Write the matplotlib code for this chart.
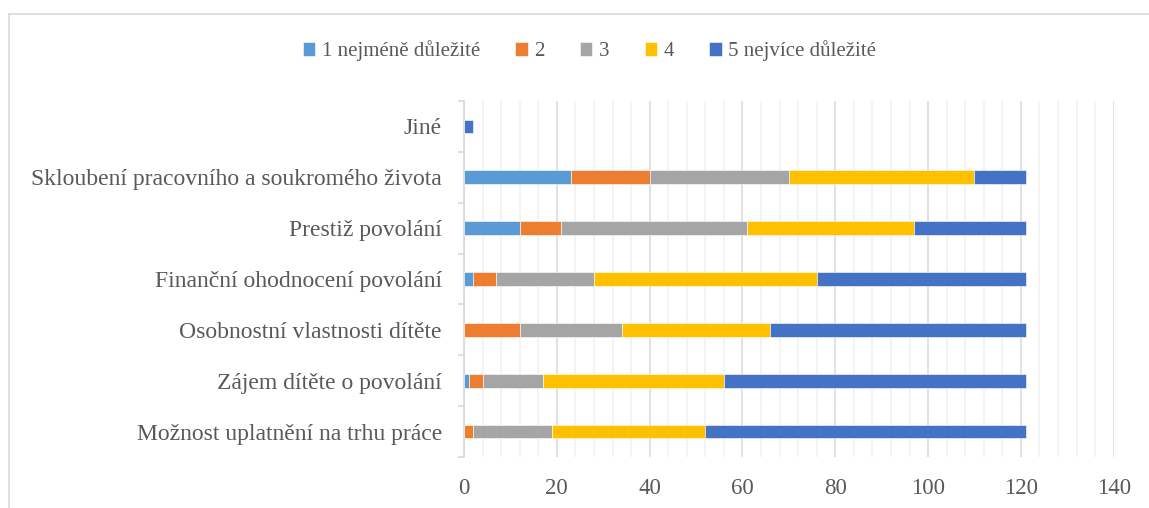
import numpy as np
import matplotlib.pyplot as plt
from matplotlib.lines import Line2D
from matplotlib.ticker import MultipleLocator, FixedLocator

plt.rcParams['font.family'] = ['Liberation Serif', 'DejaVu Serif']

# categories from bottom to top
categories = [
    'Možnost uplatnění na trhu práce',
    'Zájem dítěte o povolání',
    'Osobnostní vlastnosti dítěte',
    'Finanční ohodnocení povolání',
    'Prestiž povolání',
    'Skloubení pracovního a soukromého života',
    'Jiné',
]
series_names = ['1 nejméně důležité', '2', '3', '4', '5 nejvíce důležité']
s1 = [0, 1, 0, 2, 12, 23, 0]
s2 = [2, 3, 12, 5, 9, 17, 0]
s3 = [17, 13, 22, 21, 40, 30, 0]
s4 = [33, 39, 32, 48, 36, 40, 0]
s5 = [69, 65, 55, 45, 24, 11, 2]
colors = ['#5B9BD5', '#ED7D31', '#A5A5A5', '#FFC000', '#4472C4']

text_col = '#595959'
grid_col = '#d9d9d9'

fig = plt.figure(figsize=(11.49, 5.08), dpi=100)
ax = fig.add_axes([464 / 1149, 51 / 508, (1113.7 - 464) / 1149, 356 / 508])

y = np.arange(len(categories))
left = np.zeros(len(categories))
for name, vals, c in zip(series_names, [s1, s2, s3, s4, s5], colors):
    vals = np.array(vals, dtype=float)
    ax.barh(y, vals, left=left, height=0.27, color=c, label=name,
            edgecolor='white', linewidth=0.4, zorder=3)
    left += vals

ax.set_xlim(0, 140)
ax.set_ylim(-0.5, len(categories) - 0.5)
ax.xaxis.set_major_locator(MultipleLocator(20))
ax.xaxis.set_minor_locator(MultipleLocator(4))
ax.grid(axis='x', which='major', color=grid_col, linewidth=1.1, zorder=0)
ax.grid(axis='x', which='minor', color='#f0f0f0', linewidth=1.1, zorder=0)
ax.tick_params(axis='x', which='both', length=0, labelsize=16.5, labelcolor=text_col, pad=15)

ax.yaxis.set_major_locator(FixedLocator(np.arange(-0.5, len(categories), 1.0)))
ax.yaxis.set_minor_locator(FixedLocator(y))
ax.set_yticklabels([], minor=False)
ax.set_yticklabels(categories, minor=True)
ax.tick_params(axis='y', which='major', length=4, color=grid_col, width=1.2)
ax.tick_params(axis='y', which='minor', length=0, labelsize=17, labelcolor=text_col, pad=16)

for s in ['top', 'right', 'bottom']:
    ax.spines[s].set_visible(False)
ax.spines['left'].set_color(grid_col)
ax.spines['left'].set_linewidth(1.2)

leg = fig.legend(loc='center', bbox_to_anchor=(0.513, 0.9), ncol=5, frameon=False,
                 fontsize=15, handlelength=0.6, handleheight=0.6, handletextpad=0.3,
                 columnspacing=1.7)
for t in leg.get_texts():
    t.set_color(text_col)

# chart area border (top and left edges visible)
fig.add_artist(Line2D([8.5 / 1149, 1.0], [1 - 14 / 508, 1 - 14 / 508], color=grid_col, linewidth=1.2))
fig.add_artist(Line2D([8.5 / 1149, 8.5 / 1149], [0, 1 - 14 / 508], color=grid_col, linewidth=1.2))

fig.savefig('out.png', dpi=100)
